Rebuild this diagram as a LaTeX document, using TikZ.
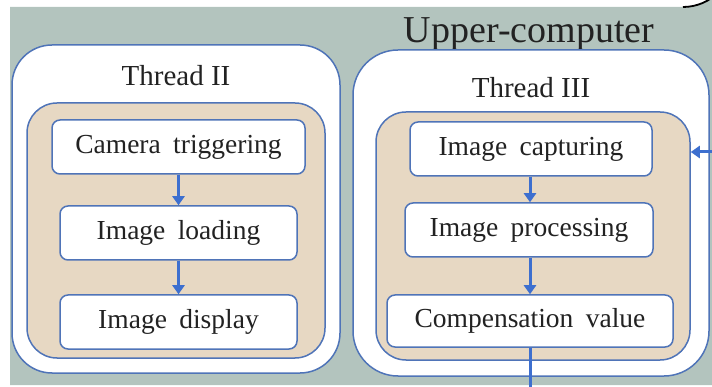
\documentclass[tikz,border=0pt]{standalone}
\usepackage{fontspec}
\setmainfont{Liberation Serif}
\usetikzlibrary{arrows.meta}
\definecolor{bgc}{HTML}{B3C4BE}
\definecolor{tanc}{HTML}{E7D8C3}
\definecolor{edgec}{HTML}{4F74B8}
\definecolor{arrc}{HTML}{3D6FCF}
\definecolor{txtc}{HTML}{222222}
\newcommand{\wsp}{\hspace{0.45em}}
\begin{document}
\begin{tikzpicture}[x=1pt,y=-1pt,
  thread/.style={draw=edgec,line width=1.5pt,fill=white,rounded corners=40pt,inner sep=0pt},
  tanbox/.style={draw=edgec,line width=1.5pt,fill=tanc,rounded corners=30pt,inner sep=0pt},
  stepbox/.style={draw=edgec,line width=1.5pt,fill=white,rounded corners=8pt,inner sep=0pt,
    minimum height=54pt,text=txtc,font=\fontsize{27.5}{30}\selectfont},
  lbl/.style={text=txtc,font=\fontsize{29}{32}\selectfont,inner sep=0pt},
  flow/.style={draw=arrc,line width=3pt,-{Triangle[width=12pt,length=9pt]}}]
\useasboundingbox (0,0) rectangle (712,387);
\clip (0,0) rectangle (712,387);
% background
\fill[bgc] (10,7) -- (683,7) arc[start angle=90,end angle=0,radius=50] -- (733,385) -- (10,385) -- cycle;
\draw[black,line width=1.8pt] (683,7) arc[start angle=90,end angle=0,radius=50];
\node[text=txtc,font=\fontsize{38}{42}\selectfont,inner sep=0pt] (upper) at (529,34) {Upper-computer};
% Thread II
\node[thread,minimum width=328pt,minimum height=328pt] (t2) at (176,209) {};
\node[lbl] (t2l) at (176,76) {Thread II};
\node[tanbox,minimum width=298pt,minimum height=255pt] (tan2) at (176,230.5) {};
\node[stepbox,minimum width=253pt] (cam) at (178.5,147) {Camera\wsp triggering};
\node[stepbox,minimum width=237pt] (load) at (178.5,233) {Image\wsp loading};
\node[stepbox,minimum width=237pt] (disp) at (178.5,322) {Image\wsp display};
\draw[flow] (cam) -- (load);
\draw[flow] (load) -- (disp);
% Thread III
\node[thread,rounded corners=45pt,minimum width=356pt,minimum height=326pt] (t3) at (531,213) {};
\node[lbl] (t3l) at (531,88) {Thread III};
\node[tanbox,minimum width=314pt,minimum height=248pt] (tan3) at (533,236) {};
\node[stepbox,minimum width=242pt] (cap) at (531,149) {Image\wsp capturing};
\node[stepbox,minimum width=248pt] (proc) at (529,230) {Image\wsp processing};
\node[stepbox,minimum width=286pt,minimum height=52pt] (comp) at (530,321) {Compensation\wsp value};
\draw[flow] (cap.south -| 530,0) -- (proc.north -| 530,0);
\draw[flow] (proc.south -| 530,0) -- (comp.north -| 530,0);
\coordinate (bot) at (530,390);
\draw[draw=arrc,line width=3pt] (comp.south) -- (bot);
\coordinate (rin) at (714,152);
\draw[flow] (rin) -- (tan3.east |- rin);
\end{tikzpicture}
\end{document}
